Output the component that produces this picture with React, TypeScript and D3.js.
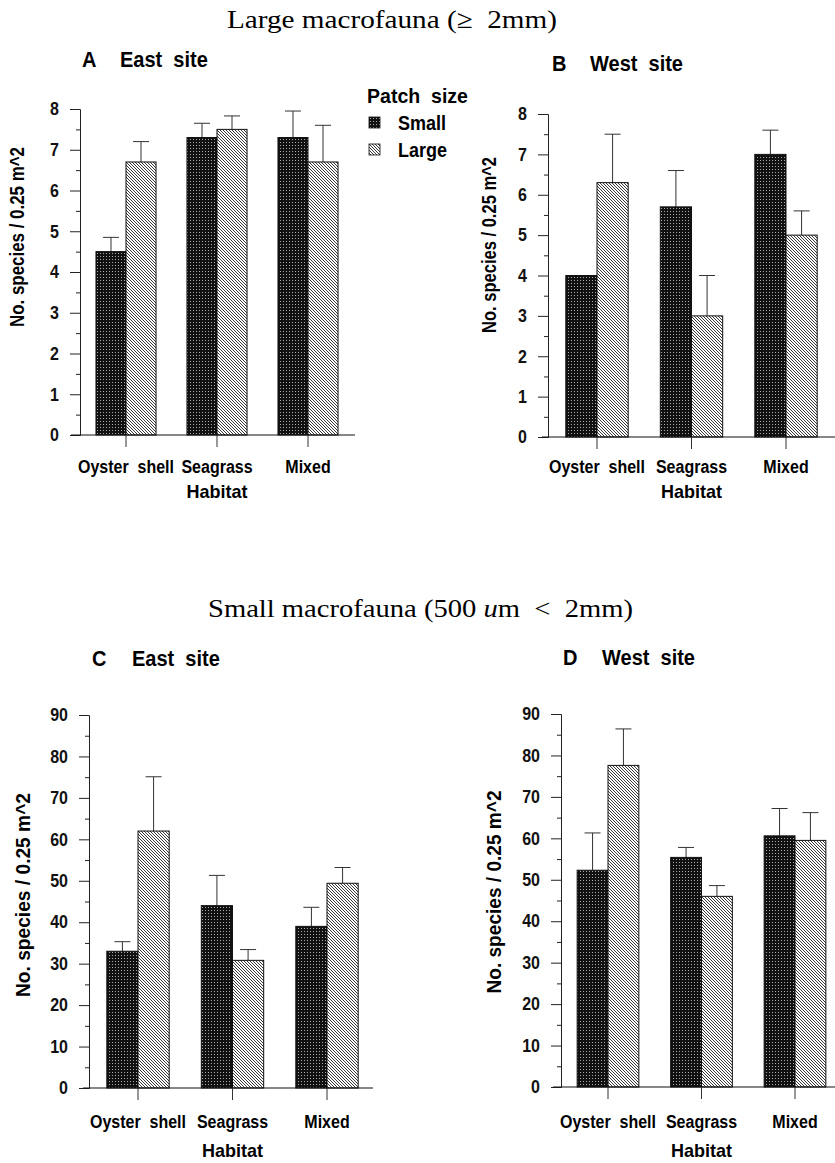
import React, { useEffect, useRef } from "react";
import * as d3 from "d3";

const habitats = ["Oyster  shell", "Seagrass", "Mixed"];
const patchSizes = ["Small", "Large"];

// Large macrofauna, East site (A)
const eastLargeMacroSmall = [4.5, 7.3, 7.3];
const eastLargeMacroSmallSE = [0.35, 0.35, 0.65];
const eastLargeMacroLarge = [6.7, 7.5, 6.7];
const eastLargeMacroLargeSE = [0.5, 0.33, 0.9];

// Large macrofauna, West site (B)
const westLargeMacroSmall = [4.0, 5.7, 7.0];
const westLargeMacroSmallSE = [0, 0.9, 0.6];
const westLargeMacroLarge = [6.3, 3.0, 5.0];
const westLargeMacroLargeSE = [1.2, 1.0, 0.6];

// Small macrofauna, East site (C)
const eastSmallMacroSmall = [33, 44, 39];
const eastSmallMacroSmallSE = [2.3, 7.3, 4.6];
const eastSmallMacroLarge = [62, 30.8, 49.4];
const eastSmallMacroLargeSE = [13.1, 2.6, 3.8];

// Small macrofauna, West site (D)
const westSmallMacroSmall = [52.3, 55.4, 60.6];
const westSmallMacroSmallSE = [9.0, 2.4, 6.6];
const westSmallMacroLarge = [77.6, 46, 59.5];
const westSmallMacroLargeSE = [8.8, 2.6, 6.7];

const yTicksLarge = d3.range(0, 9, 1);
const yMinorLarge = d3.range(0.5, 8, 1);
const yTicksSmall = d3.range(0, 91, 10);
const yMinorSmall = d3.range(5, 90, 10);

const panels = [
  {
    letter: "A", site: "East  site", lx: 82, sx: 120, ty: 67,
    small: eastLargeMacroSmall, smallSE: eastLargeMacroSmallSE,
    large: eastLargeMacroLarge, largeSE: eastLargeMacroLargeSE,
    ticks: yTicksLarge, minor: yMinorLarge, max: 8,
    axisX: 80, y0: 435, yTop: 109, band: [80.5, 353.5], xLine: [71, 355],
    labelY: 473, habitatY: 498, ylab: [24, 237], ylabLen: 180,
  },
  {
    letter: "B", site: "West  site", lx: 552, sx: 590, ty: 71,
    small: westLargeMacroSmall, smallSE: westLargeMacroSmallSE,
    large: westLargeMacroLarge, largeSE: westLargeMacroLargeSE,
    ticks: yTicksLarge, minor: yMinorLarge, max: 8,
    axisX: 548, y0: 437, yTop: 114, band: [549.75, 833.25], xLine: [542, 835],
    labelY: 473, habitatY: 498, ylab: [496, 245], ylabLen: 176,
  },
  {
    letter: "C", site: "East  site", lx: 92, sx: 132, ty: 666,
    small: eastSmallMacroSmall, smallSE: eastSmallMacroSmallSE,
    large: eastSmallMacroLarge, largeSE: eastSmallMacroLargeSE,
    ticks: yTicksSmall, minor: yMinorSmall, max: 90,
    axisX: 89, y0: 1088, yTop: 715, band: [90.75, 374.25], xLine: [83, 373],
    labelY: 1128, habitatY: 1157, ylab: [30, 895], ylabLen: 204,
  },
  {
    letter: "D", site: "West  site", lx: 563, sx: 602, ty: 665,
    small: westSmallMacroSmall, smallSE: westSmallMacroSmallSE,
    large: westSmallMacroLarge, largeSE: westSmallMacroLargeSE,
    ticks: yTicksSmall, minor: yMinorSmall, max: 90,
    axisX: 561, y0: 1087, yTop: 714, band: [561.25, 841.75], xLine: [553, 835],
    labelY: 1128, habitatY: 1157, ylab: [501, 892], ylabLen: 203,
  },
];

const sans = "'Liberation Sans', Arial, sans-serif";
const serif = "'Liberation Serif', 'Times New Roman', serif";

// make text taller but keep the width it had (condensed look of the original)
function condense(el: SVGTextElement, size: number, len?: number) {
  const w = len ?? el.getComputedTextLength();
  d3.select(el).attr("font-size", size).attr("textLength", w).attr("lengthAdjust", "spacingAndGlyphs");
}

function App() {
  const ref = useRef<SVGSVGElement | null>(null);

  useEffect(() => {
    const svg = d3.select(ref.current);
    svg.selectAll("*").remove();

    const defs = svg.append("defs");
    const dots = defs.append("pattern")
      .attr("id", "dots").attr("patternUnits", "userSpaceOnUse")
      .attr("width", 3).attr("height", 3);
    dots.append("rect").attr("width", 3).attr("height", 3).attr("fill", "#111");
    dots.append("rect").attr("x", 1).attr("y", 1).attr("width", 1).attr("height", 1).attr("fill", "#aaa");

    const hatch = defs.append("pattern")
      .attr("id", "hatch").attr("patternUnits", "userSpaceOnUse")
      .attr("width", 3).attr("height", 3);
    hatch.append("rect").attr("width", 3).attr("height", 3).attr("fill", "#fff");
    hatch.append("path")
      .attr("d", "M0,0 L3,3 M-1,2 L1,4 M2,-1 L4,1")
      .attr("stroke", "#222").attr("stroke-width", 0.9);

    const fills: Record<string, string> = { Small: "url(#dots)", Large: "url(#hatch)" };

    // section titles
    svg.append("text").attr("x", 227).attr("y", 28)
      .attr("font-family", serif).attr("font-size", 26)
      .attr("textLength", 330).attr("lengthAdjust", "spacingAndGlyphs")
      .style("white-space", "pre")
      .text("Large macrofauna (\u2265  2mm)");
    const t2 = svg.append("text").attr("x", 208).attr("y", 617)
      .attr("font-family", serif).attr("font-size", 26)
      .attr("textLength", 425).attr("lengthAdjust", "spacingAndGlyphs")
      .style("white-space", "pre");
    t2.append("tspan").text("Small macrofauna (500 ");
    t2.append("tspan").attr("font-style", "italic").text("u");
    t2.append("tspan").text("m  <  2mm)");

    panels.forEach((p) => {
      const g = svg.append("g");
      const y = d3.scaleLinear().domain([0, p.max]).range([p.y0, p.yTop]);
      const x = d3.scaleBand().domain(habitats).range(p.band as [number, number])
        .paddingInner(0.34).paddingOuter(0.17);
      const xs = d3.scaleBand().domain(patchSizes).range([0, x.bandwidth()]);

      // panel title
      const tl = g.append("text").attr("x", p.lx).attr("y", p.ty)
        .attr("font-family", sans).attr("font-weight", "bold").attr("font-size", 20)
        .text(p.letter);
      condense(tl.node() as SVGTextElement, 22);
      const ts = g.append("text").attr("x", p.sx).attr("y", p.ty)
        .attr("font-family", sans).attr("font-weight", "bold").attr("font-size", 20)
        .style("white-space", "pre")
        .text(p.site);
      condense(ts.node() as SVGTextElement, 22);

      const rows = habitats.flatMap((h, i) => [
        { h, s: "Small", v: p.small[i], se: p.smallSE[i] },
        { h, s: "Large", v: p.large[i], se: p.largeSE[i] },
      ]);

      // error bars (upper only)
      rows.filter((d) => d.se > 0).forEach((d) => {
        const cx = (x(d.h) as number) + (xs(d.s) as number) + xs.bandwidth() / 2;
        g.append("line").attr("x1", cx).attr("x2", cx)
          .attr("y1", y(d.v)).attr("y2", y(d.v + d.se))
          .attr("stroke", "#333").attr("stroke-width", 1);
        g.append("line").attr("x1", cx - 8).attr("x2", cx + 8)
          .attr("y1", y(d.v + d.se)).attr("y2", y(d.v + d.se))
          .attr("stroke", "#333").attr("stroke-width", 1);
      });

      g.selectAll("rect.bar").data(rows).enter().append("rect")
        .attr("class", "bar")
        .attr("x", (d) => (x(d.h) as number) + (xs(d.s) as number))
        .attr("y", (d) => y(d.v))
        .attr("width", xs.bandwidth())
        .attr("height", (d) => p.y0 - y(d.v))
        .attr("fill", (d) => fills[d.s])
        .attr("stroke", "#111").attr("stroke-width", 1);

      // y axis
      const ax = g.append("g").attr("transform", `translate(${p.axisX},0)`)
        .call(d3.axisLeft(y).tickValues(p.ticks).tickSize(10).tickPadding(11).tickFormat(d3.format("d")));
      ax.select(".domain").attr("stroke", "#222");
      ax.selectAll(".tick line").attr("stroke", "#222");
      ax.selectAll("text").attr("font-family", sans).attr("font-weight", "bold")
        .attr("font-size", 16).attr("fill", "#111");
      ax.selectAll<SVGTextElement, unknown>("text").each(function () { condense(this, 18); });
      const mn = g.append("g").attr("transform", `translate(${p.axisX},0)`)
        .call(d3.axisLeft(y).tickValues(p.minor).tickSize(4).tickFormat(() => ""));
      mn.select(".domain").remove();
      mn.selectAll(".tick line").attr("stroke", "#222");

      // x axis
      g.append("line").attr("x1", p.xLine[0]).attr("x2", p.xLine[1])
        .attr("y1", p.y0).attr("y2", p.y0).attr("stroke", "#111").attr("stroke-width", 1.2);
      habitats.forEach((h) => {
        const cx = (x(h) as number) + x.bandwidth() / 2;
        g.append("line").attr("x1", cx).attr("x2", cx)
          .attr("y1", p.y0).attr("y2", p.y0 + 12).attr("stroke", "#333");
        const lab = g.append("text").attr("x", cx).attr("y", p.labelY)
          .attr("text-anchor", "middle").attr("font-family", sans)
          .attr("font-weight", "bold").attr("font-size", 16)
          .style("white-space", "pre").text(h);
        condense(lab.node() as SVGTextElement, 18);
      });
      const mid = ((x(habitats[1]) as number) + x.bandwidth() / 2);
      const hab = g.append("text").attr("x", mid).attr("y", p.habitatY)
        .attr("text-anchor", "middle").attr("font-family", sans)
        .attr("font-weight", "bold").attr("font-size", 18).text("Habitat");
      condense(hab.node() as SVGTextElement, 19);

      g.append("text")
        .attr("transform", `translate(${p.ylab[0]},${p.ylab[1]}) rotate(-90)`)
        .attr("text-anchor", "middle").attr("font-family", sans)
        .attr("font-weight", "bold").attr("font-size", 20)
        .attr("textLength", p.ylabLen).attr("lengthAdjust", "spacingAndGlyphs")
        .text("No. species / 0.25 m^2");
    });

    // legend
    const lg = svg.append("g").attr("font-family", sans).attr("font-weight", "bold");
    const lt = lg.append("text").attr("x", 367).attr("y", 103).attr("font-size", 18)
      .style("white-space", "pre").text("Patch  size");
    condense(lt.node() as SVGTextElement, 20, 101);
    patchSizes.forEach((s, i) => {
      lg.append("rect").attr("x", 369).attr("y", 117 + i * 27).attr("width", 11).attr("height", 11)
        .attr("fill", fills[s]).attr("stroke", "#111").attr("stroke-width", 0.8);
      const t = lg.append("text").attr("x", 398).attr("y", 130 + i * 27).attr("font-size", 18).text(s);
      condense(t.node() as SVGTextElement, 20);
    });
  }, []);

  return (
    <svg ref={ref} width={835} height={1163}
      style={{ position: "absolute", left: 0, top: 0, background: "#fff" }} />
  );
}

export default App;
